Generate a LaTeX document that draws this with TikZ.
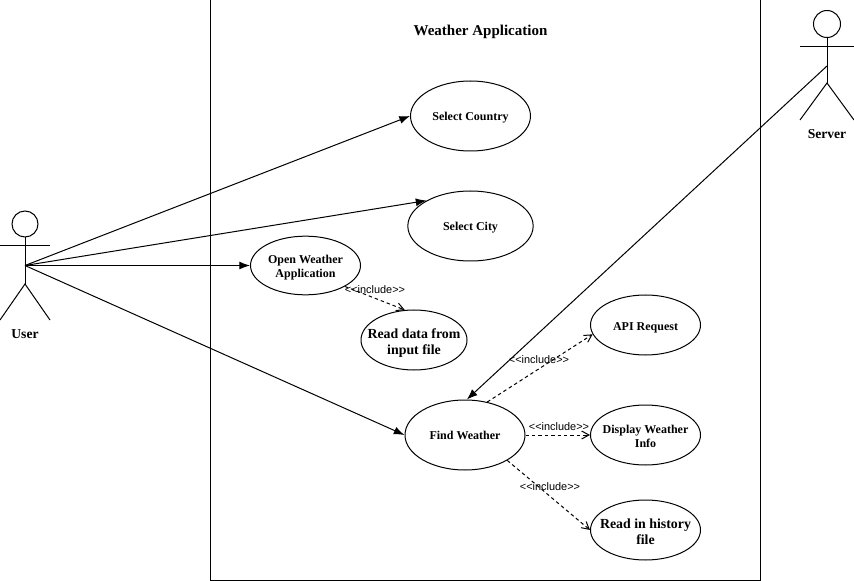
\documentclass[tikz,border=0pt]{standalone}
\usepackage{fontspec}
\setmainfont{Liberation Serif}
\newfontfamily\labelfont{Liberation Sans}
\usetikzlibrary{shapes.geometric,arrows.meta}

\tikzset{
    usecase/.style={draw, ellipse, inner sep=-12pt, text depth=0pt, align=center, font=\bfseries\fontsize{9}{10.5}\selectfont},
    usecasetwo/.style={usecase, text height=18pt},
    usecasebig/.style={usecase, text height=21.6pt, font=\bfseries\fontsize{10.4}{12}\selectfont},
    actorname/.style={font=\bfseries\fontsize{10.2}{11}\selectfont},
    assoc/.style={-{Latex[length=8pt,width=6pt]}},
    include/.style={dashed, dash pattern=on 2.6pt off 2.2pt, -{Straight Barb[length=5.5pt,width=6pt]}},
    includelabel/.style={font=\labelfont\fontsize{8.2}{9}\selectfont, inner sep=0pt}
}

\begin{document}
\begin{tikzpicture}[x=0.75pt, y=-0.75pt, line width=0.75pt]
    \useasboundingbox (0,0) rectangle (854,581);

    % System boundary
    \node[draw, minimum width=412.5pt, minimum height=435pt, inner sep=0pt] (system) at (485,290) {};
    \node[font=\bfseries\fontsize{11.25}{13}\selectfont] (title) at (480.5,32) {Weather Application};

    % Actors
    \draw (25,224) circle[radius=13];
    \draw (25,237) -- (25,284);
    \draw (0,246) -- (50,246);
    \draw (0,320) -- (25,284) -- (50,320);
    \coordinate (user) at (25,265.5);
    \node[actorname] (username) at (25,334.5) {User};

    \draw (827,24) circle[radius=13.5];
    \draw (827,37.5) -- (827,83);
    \draw (800,47) -- (854,47);
    \draw (800,120) -- (827,83) -- (854,120);
    \coordinate (server) at (827,66);
    \node[actorname] (servername) at (827,134.5) {Server};

    % Use cases
    \node[usecase, minimum width=90pt, minimum height=52.5pt] (country) at (470.5,116) {Select Country};
    \node[usecase, minimum width=94pt, minimum height=52.5pt] (city) at (470.5,226) {Select City};
    \node[usecasetwo, minimum width=82.5pt, minimum height=44pt] (open) at (305.5,265.5) {Open Weather\\Application};
    \node[usecasebig, minimum width=79.5pt, minimum height=45pt] (readdata) at (414,340) {Read data from\\input file};
    \node[usecase, minimum width=90pt, minimum height=52.5pt] (find) at (465,435) {Find Weather};
    \node[usecase, text height=8.2pt, minimum width=82.5pt, minimum height=45pt] (api) at (645.5,325) {API Request};
    \node[usecasetwo, minimum width=82.5pt, minimum height=45pt] (display) at (645.5,435) {Display Weather\\Info};
    \node[usecasebig, minimum width=82.5pt, minimum height=45pt] (history) at (645.5,530) {Read in history\\file};

    % Associations
    \draw[assoc] (user) -- (country.west);
    \draw[assoc] (user) -- (city.150);
    \draw[assoc] (user) -- (open.west);
    \draw[assoc] (user) -- (find.west);
    \draw[assoc] (server) -- (find.87);

    % Includes
    \draw[include] (open.-28) -- (readdata.107);
    \draw[include] (find.56) -- (api.190);
    \draw[include] (find.east) -- (display.west);
    \draw[include] (find.-31) -- (history.west);

    \node[includelabel] (inc1) at (375,289.5) {<<include>>};
    \node[includelabel] (inc2) at (539,359.5) {<<include>>};
    \node[includelabel] (inc3) at (559,426.5) {<<include>>};
    \node[includelabel] (inc4) at (550,486.5) {<<include>>};
\end{tikzpicture}
\end{document}
